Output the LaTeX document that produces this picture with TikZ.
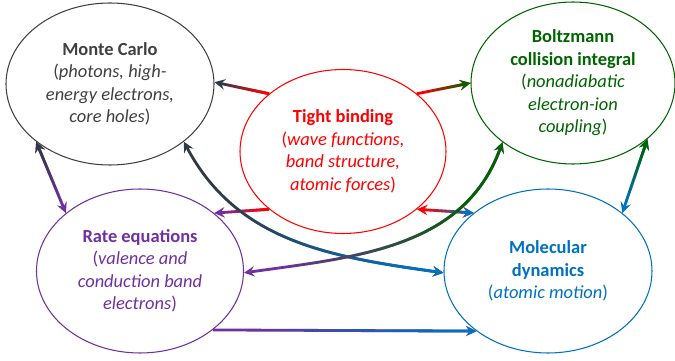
\documentclass[tikz,border=0pt]{standalone}
\usepackage{fontspec}
\setmainfont{Carlito}
\usepackage{xcolor}
\usepackage{tikz}
\usetikzlibrary{shapes.geometric, arrows, fadings}
\definecolor{mcgray}{RGB}{64,64,64}
\definecolor{linkgray}{RGB}{48,58,70}
\definecolor{tbred}{RGB}{255,0,0}
\definecolor{bzgreen}{RGB}{0,100,0}
\definecolor{ratepurple}{RGB}{112,48,160}
\definecolor{mdblue}{RGB}{0,112,192}
\begin{tikzfadingfrompicture}[name=toright]
	\fill[transparent!100] (-50bp,-50bp) rectangle (-17bp,50bp);
	\shade[left color=transparent!100, right color=transparent!0] (-18bp,-50bp) rectangle (18bp,50bp);
	\fill[transparent!0] (17bp,-50bp) rectangle (50bp,50bp);
\end{tikzfadingfrompicture}
\tikzstyle{model} = [ellipse, draw, line width=0.6pt, inner sep=0pt, align=center, font=\fontsize{10.5}{12.8}\selectfont]
\tikzstyle{link} = [line width=1.6pt,>=stealth]

\begin{document}
\begin{tikzpicture}
	\useasboundingbox (0,0) rectangle (13.5,-7.22);
	
	% Models:
	% One ellipse each, text in the colour of its outline
	\node[model, mcgray, minimum width=4.16cm, minimum height=3.24cm] (mc) at (2.2,-1.68)
	{\textbf{Monte Carlo}\\(\textit{photons, high-}\\\textit{energy electrons,}\\\textit{core holes})};
	\node[model, tbred, minimum width=4.12cm, minimum height=3.28cm] (tb) at (6.86,-3.03)
	{\textbf{Tight binding}\\(\textit{wave functions,}\\\textit{band structure,}\\\textit{atomic forces})};
	\node[model, bzgreen, minimum width=4.08cm, minimum height=3.24cm] (bz) at (11.46,-1.66)
	{\textbf{Boltzmann}\\\textbf{collision integral}\\(\textit{nonadiabatic}\\\textit{electron-ion}\\\textit{coupling})};
	\node[model, ratepurple, minimum width=4.14cm, minimum height=3.28cm] (rate) at (2.8,-5.42)
	{\textbf{Rate equations}\\(\textit{valence and}\\\textit{conduction band}\\\textit{electrons})};
	\node[model, mdblue, minimum width=4.16cm, minimum height=3.28cm] (md) at (10.96,-5.42)
	{\textbf{Molecular}\\\textbf{dynamics}\\(\textit{atomic motion})};
	
	% Links:
	% Each link is drawn twice: the colour of its left end, then the colour of its right end faded in
	\draw[link, ->, linkgray] (tb.142) -- (mc.1);
	\draw[link, ->, tbred, path fading=toright] (tb.142) -- (mc.1);
	
	\draw[link, ->, tbred] (tb.38) -- (bz.180);
	\draw[link, ->, bzgreen, path fading=toright] (tb.38) -- (bz.180);
	
	\draw[link, ->, ratepurple] (tb.218) -- (rate.38);
	\draw[link, ->, tbred, path fading=toright] (tb.218) -- (rate.38);
	
	\draw[link, <->, tbred] (tb.-38) -- (md.142);
	\draw[link, <->, mdblue, path fading=toright] (tb.-38) -- (md.142);
	
	\draw[link, <->, ratepurple] (mc.218) -- (rate.142);
	\draw[link, <->, linkgray, path fading=toright, fading angle=90] (mc.218) -- (rate.142);
	
	\draw[link, <->, mdblue] (bz.-37) -- (md.38);
	\draw[link, <->, bzgreen, path fading=toright, fading angle=90] (bz.-37) -- (md.38);
	
	\draw[link, ->, ratepurple] (rate.-39) -- (md.220);
	\draw[link, ->, mdblue, path fading=toright] (rate.-39) -- (md.220);
	
	% Crossing curves
	\draw[link, <->, linkgray] (mc.-38) to[out=-62, in=172] (md.181);
	\draw[link, <->, mdblue, path fading=toright] (mc.-38) to[out=-62, in=172] (md.181);
	
	\draw[link, <->, ratepurple] (bz.220) to[out=-110, in=8] (rate.-1);
	\draw[link, <->, bzgreen, path fading=toright] (bz.220) to[out=-110, in=8] (rate.-1);
	
\end{tikzpicture}
\end{document}
